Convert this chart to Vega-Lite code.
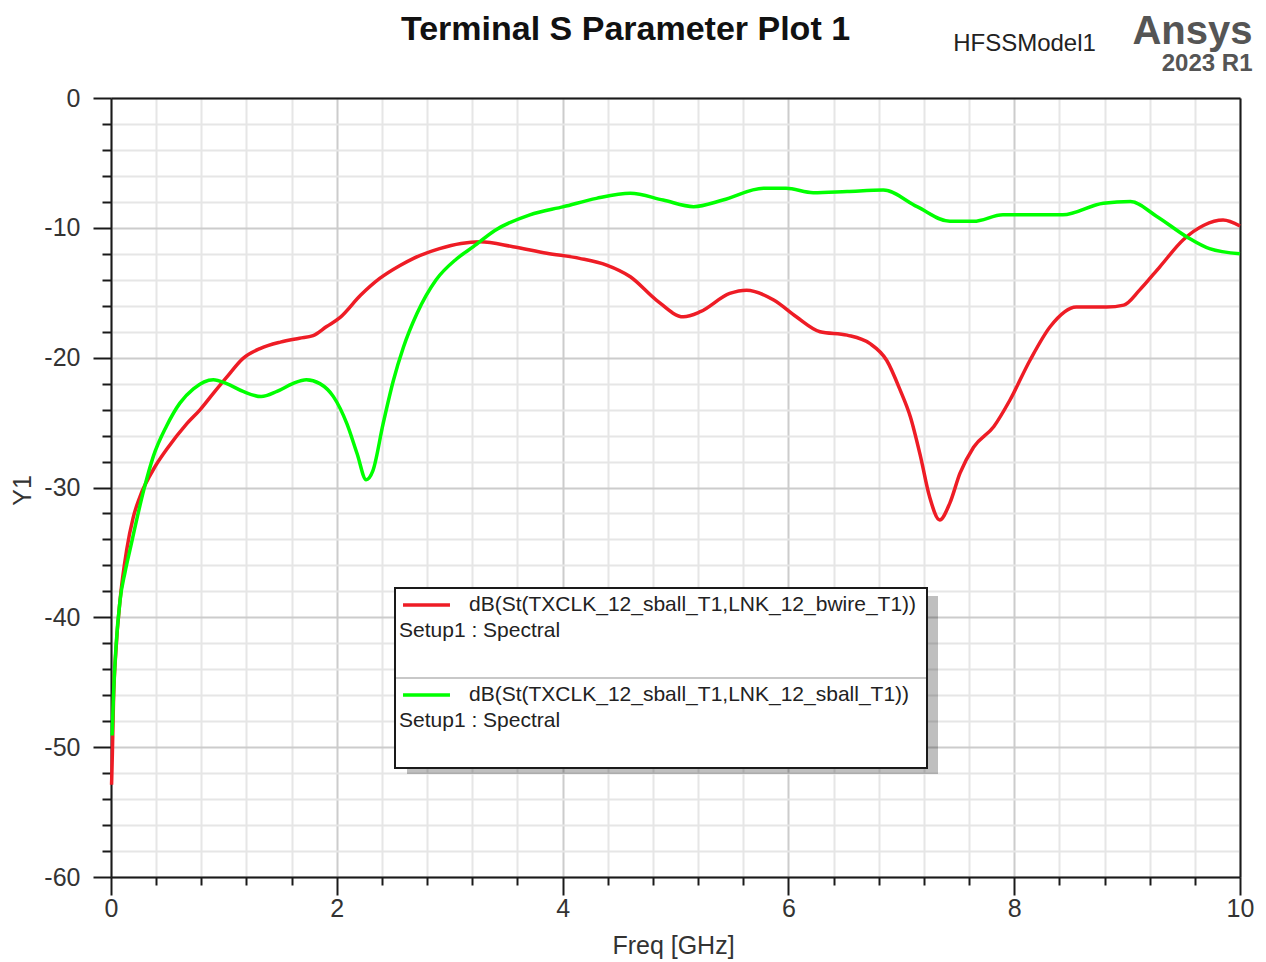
{
  "$schema": "https://vega.github.io/schema/vega-lite/v6.json",
  "width": 1129,
  "height": 779,
  "autosize": {"type": "none"},
  "padding": {"left": 111, "top": 98, "right": 26, "bottom": 85},
  "background": "#ffffff",
  "config": {"view": {"stroke": null}, "font": "Liberation Sans"},
  "title": {"text": "Terminal S Parameter Plot 1", "fontSize": 34, "fontWeight": "bold", "color": "#111111", "font": "Liberation Sans", "anchor": "middle", "dx": -50, "dy": 63, "baseline": "alphabetic", "offset": 0},
  "data": {"values": [
    {"s": "dB(St(TXCLK_12_sball_T1,LNK_12_bwire_T1))", "f": 0.005, "db": -52.9},
    {"s": "dB(St(TXCLK_12_sball_T1,LNK_12_bwire_T1))", "f": 0.012, "db": -50.5},
    {"s": "dB(St(TXCLK_12_sball_T1,LNK_12_bwire_T1))", "f": 0.022, "db": -46.5},
    {"s": "dB(St(TXCLK_12_sball_T1,LNK_12_bwire_T1))", "f": 0.044, "db": -42.5},
    {"s": "dB(St(TXCLK_12_sball_T1,LNK_12_bwire_T1))", "f": 0.08, "db": -38.7},
    {"s": "dB(St(TXCLK_12_sball_T1,LNK_12_bwire_T1))", "f": 0.139, "db": -34.8},
    {"s": "dB(St(TXCLK_12_sball_T1,LNK_12_bwire_T1))", "f": 0.197, "db": -32.3},
    {"s": "dB(St(TXCLK_12_sball_T1,LNK_12_bwire_T1))", "f": 0.257, "db": -30.7},
    {"s": "dB(St(TXCLK_12_sball_T1,LNK_12_bwire_T1))", "f": 0.39, "db": -28.4},
    {"s": "dB(St(TXCLK_12_sball_T1,LNK_12_bwire_T1))", "f": 0.49, "db": -27.1},
    {"s": "dB(St(TXCLK_12_sball_T1,LNK_12_bwire_T1))", "f": 0.67, "db": -25.1},
    {"s": "dB(St(TXCLK_12_sball_T1,LNK_12_bwire_T1))", "f": 0.79, "db": -24.0},
    {"s": "dB(St(TXCLK_12_sball_T1,LNK_12_bwire_T1))", "f": 0.906, "db": -22.75},
    {"s": "dB(St(TXCLK_12_sball_T1,LNK_12_bwire_T1))", "f": 1.025, "db": -21.5},
    {"s": "dB(St(TXCLK_12_sball_T1,LNK_12_bwire_T1))", "f": 1.17, "db": -20.05},
    {"s": "dB(St(TXCLK_12_sball_T1,LNK_12_bwire_T1))", "f": 1.32, "db": -19.3},
    {"s": "dB(St(TXCLK_12_sball_T1,LNK_12_bwire_T1))", "f": 1.5, "db": -18.8},
    {"s": "dB(St(TXCLK_12_sball_T1,LNK_12_bwire_T1))", "f": 1.67, "db": -18.5},
    {"s": "dB(St(TXCLK_12_sball_T1,LNK_12_bwire_T1))", "f": 1.79, "db": -18.3},
    {"s": "dB(St(TXCLK_12_sball_T1,LNK_12_bwire_T1))", "f": 1.91, "db": -17.6},
    {"s": "dB(St(TXCLK_12_sball_T1,LNK_12_bwire_T1))", "f": 2.03, "db": -16.9},
    {"s": "dB(St(TXCLK_12_sball_T1,LNK_12_bwire_T1))", "f": 2.21, "db": -15.2},
    {"s": "dB(St(TXCLK_12_sball_T1,LNK_12_bwire_T1))", "f": 2.38, "db": -13.9},
    {"s": "dB(St(TXCLK_12_sball_T1,LNK_12_bwire_T1))", "f": 2.56, "db": -12.9},
    {"s": "dB(St(TXCLK_12_sball_T1,LNK_12_bwire_T1))", "f": 2.68, "db": -12.35},
    {"s": "dB(St(TXCLK_12_sball_T1,LNK_12_bwire_T1))", "f": 2.91, "db": -11.6},
    {"s": "dB(St(TXCLK_12_sball_T1,LNK_12_bwire_T1))", "f": 3.1, "db": -11.2},
    {"s": "dB(St(TXCLK_12_sball_T1,LNK_12_bwire_T1))", "f": 3.27, "db": -11.07},
    {"s": "dB(St(TXCLK_12_sball_T1,LNK_12_bwire_T1))", "f": 3.56, "db": -11.45},
    {"s": "dB(St(TXCLK_12_sball_T1,LNK_12_bwire_T1))", "f": 3.86, "db": -11.96},
    {"s": "dB(St(TXCLK_12_sball_T1,LNK_12_bwire_T1))", "f": 4.15, "db": -12.35},
    {"s": "dB(St(TXCLK_12_sball_T1,LNK_12_bwire_T1))", "f": 4.39, "db": -12.87},
    {"s": "dB(St(TXCLK_12_sball_T1,LNK_12_bwire_T1))", "f": 4.6, "db": -13.77},
    {"s": "dB(St(TXCLK_12_sball_T1,LNK_12_bwire_T1))", "f": 4.83, "db": -15.56},
    {"s": "dB(St(TXCLK_12_sball_T1,LNK_12_bwire_T1))", "f": 5.07, "db": -16.85},
    {"s": "dB(St(TXCLK_12_sball_T1,LNK_12_bwire_T1))", "f": 5.22, "db": -16.46},
    {"s": "dB(St(TXCLK_12_sball_T1,LNK_12_bwire_T1))", "f": 5.48, "db": -15.05},
    {"s": "dB(St(TXCLK_12_sball_T1,LNK_12_bwire_T1))", "f": 5.63, "db": -14.8},
    {"s": "dB(St(TXCLK_12_sball_T1,LNK_12_bwire_T1))", "f": 5.87, "db": -15.56},
    {"s": "dB(St(TXCLK_12_sball_T1,LNK_12_bwire_T1))", "f": 6.07, "db": -16.85},
    {"s": "dB(St(TXCLK_12_sball_T1,LNK_12_bwire_T1))", "f": 6.28, "db": -18.0},
    {"s": "dB(St(TXCLK_12_sball_T1,LNK_12_bwire_T1))", "f": 6.52, "db": -18.26},
    {"s": "dB(St(TXCLK_12_sball_T1,LNK_12_bwire_T1))", "f": 6.72, "db": -18.9},
    {"s": "dB(St(TXCLK_12_sball_T1,LNK_12_bwire_T1))", "f": 6.87, "db": -20.2},
    {"s": "dB(St(TXCLK_12_sball_T1,LNK_12_bwire_T1))", "f": 6.99, "db": -22.5},
    {"s": "dB(St(TXCLK_12_sball_T1,LNK_12_bwire_T1))", "f": 7.08, "db": -24.55},
    {"s": "dB(St(TXCLK_12_sball_T1,LNK_12_bwire_T1))", "f": 7.17, "db": -27.6},
    {"s": "dB(St(TXCLK_12_sball_T1,LNK_12_bwire_T1))", "f": 7.25, "db": -30.7},
    {"s": "dB(St(TXCLK_12_sball_T1,LNK_12_bwire_T1))", "f": 7.34, "db": -32.5},
    {"s": "dB(St(TXCLK_12_sball_T1,LNK_12_bwire_T1))", "f": 7.43, "db": -31.2},
    {"s": "dB(St(TXCLK_12_sball_T1,LNK_12_bwire_T1))", "f": 7.52, "db": -28.9},
    {"s": "dB(St(TXCLK_12_sball_T1,LNK_12_bwire_T1))", "f": 7.64, "db": -26.9},
    {"s": "dB(St(TXCLK_12_sball_T1,LNK_12_bwire_T1))", "f": 7.82, "db": -25.3},
    {"s": "dB(St(TXCLK_12_sball_T1,LNK_12_bwire_T1))", "f": 7.96, "db": -23.3},
    {"s": "dB(St(TXCLK_12_sball_T1,LNK_12_bwire_T1))", "f": 8.14, "db": -20.2},
    {"s": "dB(St(TXCLK_12_sball_T1,LNK_12_bwire_T1))", "f": 8.32, "db": -17.6},
    {"s": "dB(St(TXCLK_12_sball_T1,LNK_12_bwire_T1))", "f": 8.55, "db": -16.1},
    {"s": "dB(St(TXCLK_12_sball_T1,LNK_12_bwire_T1))", "f": 8.82, "db": -16.1},
    {"s": "dB(St(TXCLK_12_sball_T1,LNK_12_bwire_T1))", "f": 8.97, "db": -15.95},
    {"s": "dB(St(TXCLK_12_sball_T1,LNK_12_bwire_T1))", "f": 9.11, "db": -14.8},
    {"s": "dB(St(TXCLK_12_sball_T1,LNK_12_bwire_T1))", "f": 9.29, "db": -13.0},
    {"s": "dB(St(TXCLK_12_sball_T1,LNK_12_bwire_T1))", "f": 9.5, "db": -10.9},
    {"s": "dB(St(TXCLK_12_sball_T1,LNK_12_bwire_T1))", "f": 9.68, "db": -9.8},
    {"s": "dB(St(TXCLK_12_sball_T1,LNK_12_bwire_T1))", "f": 9.85, "db": -9.4},
    {"s": "dB(St(TXCLK_12_sball_T1,LNK_12_bwire_T1))", "f": 10.0, "db": -9.86},
    {"s": "dB(St(TXCLK_12_sball_T1,LNK_12_sball_T1))", "f": 0.01, "db": -49.1},
    {"s": "dB(St(TXCLK_12_sball_T1,LNK_12_sball_T1))", "f": 0.022, "db": -46.0},
    {"s": "dB(St(TXCLK_12_sball_T1,LNK_12_sball_T1))", "f": 0.044, "db": -42.3},
    {"s": "dB(St(TXCLK_12_sball_T1,LNK_12_sball_T1))", "f": 0.08, "db": -38.7},
    {"s": "dB(St(TXCLK_12_sball_T1,LNK_12_sball_T1))", "f": 0.125, "db": -36.5},
    {"s": "dB(St(TXCLK_12_sball_T1,LNK_12_sball_T1))", "f": 0.168, "db": -34.8},
    {"s": "dB(St(TXCLK_12_sball_T1,LNK_12_sball_T1))", "f": 0.29, "db": -30.2},
    {"s": "dB(St(TXCLK_12_sball_T1,LNK_12_sball_T1))", "f": 0.375, "db": -27.6},
    {"s": "dB(St(TXCLK_12_sball_T1,LNK_12_sball_T1))", "f": 0.49, "db": -25.3},
    {"s": "dB(St(TXCLK_12_sball_T1,LNK_12_sball_T1))", "f": 0.61, "db": -23.5},
    {"s": "dB(St(TXCLK_12_sball_T1,LNK_12_sball_T1))", "f": 0.73, "db": -22.4},
    {"s": "dB(St(TXCLK_12_sball_T1,LNK_12_sball_T1))", "f": 0.906, "db": -21.7},
    {"s": "dB(St(TXCLK_12_sball_T1,LNK_12_sball_T1))", "f": 1.025, "db": -22.0},
    {"s": "dB(St(TXCLK_12_sball_T1,LNK_12_sball_T1))", "f": 1.17, "db": -22.6},
    {"s": "dB(St(TXCLK_12_sball_T1,LNK_12_sball_T1))", "f": 1.33, "db": -23.0},
    {"s": "dB(St(TXCLK_12_sball_T1,LNK_12_sball_T1))", "f": 1.47, "db": -22.6},
    {"s": "dB(St(TXCLK_12_sball_T1,LNK_12_sball_T1))", "f": 1.61, "db": -22.0},
    {"s": "dB(St(TXCLK_12_sball_T1,LNK_12_sball_T1))", "f": 1.73, "db": -21.7},
    {"s": "dB(St(TXCLK_12_sball_T1,LNK_12_sball_T1))", "f": 1.85, "db": -22.0},
    {"s": "dB(St(TXCLK_12_sball_T1,LNK_12_sball_T1))", "f": 1.97, "db": -23.0},
    {"s": "dB(St(TXCLK_12_sball_T1,LNK_12_sball_T1))", "f": 2.09, "db": -25.1},
    {"s": "dB(St(TXCLK_12_sball_T1,LNK_12_sball_T1))", "f": 2.18, "db": -27.4},
    {"s": "dB(St(TXCLK_12_sball_T1,LNK_12_sball_T1))", "f": 2.26, "db": -29.4},
    {"s": "dB(St(TXCLK_12_sball_T1,LNK_12_sball_T1))", "f": 2.32, "db": -28.7},
    {"s": "dB(St(TXCLK_12_sball_T1,LNK_12_sball_T1))", "f": 2.41, "db": -25.1},
    {"s": "dB(St(TXCLK_12_sball_T1,LNK_12_sball_T1))", "f": 2.5, "db": -21.8},
    {"s": "dB(St(TXCLK_12_sball_T1,LNK_12_sball_T1))", "f": 2.59, "db": -19.2},
    {"s": "dB(St(TXCLK_12_sball_T1,LNK_12_sball_T1))", "f": 2.71, "db": -16.6},
    {"s": "dB(St(TXCLK_12_sball_T1,LNK_12_sball_T1))", "f": 2.88, "db": -14.0},
    {"s": "dB(St(TXCLK_12_sball_T1,LNK_12_sball_T1))", "f": 3.06, "db": -12.4},
    {"s": "dB(St(TXCLK_12_sball_T1,LNK_12_sball_T1))", "f": 3.21, "db": -11.45},
    {"s": "dB(St(TXCLK_12_sball_T1,LNK_12_sball_T1))", "f": 3.4, "db": -10.2},
    {"s": "dB(St(TXCLK_12_sball_T1,LNK_12_sball_T1))", "f": 3.71, "db": -9.0},
    {"s": "dB(St(TXCLK_12_sball_T1,LNK_12_sball_T1))", "f": 4.01, "db": -8.37},
    {"s": "dB(St(TXCLK_12_sball_T1,LNK_12_sball_T1))", "f": 4.3, "db": -7.73},
    {"s": "dB(St(TXCLK_12_sball_T1,LNK_12_sball_T1))", "f": 4.6, "db": -7.34},
    {"s": "dB(St(TXCLK_12_sball_T1,LNK_12_sball_T1))", "f": 4.89, "db": -7.86},
    {"s": "dB(St(TXCLK_12_sball_T1,LNK_12_sball_T1))", "f": 5.16, "db": -8.37},
    {"s": "dB(St(TXCLK_12_sball_T1,LNK_12_sball_T1))", "f": 5.42, "db": -7.86},
    {"s": "dB(St(TXCLK_12_sball_T1,LNK_12_sball_T1))", "f": 5.78, "db": -6.96},
    {"s": "dB(St(TXCLK_12_sball_T1,LNK_12_sball_T1))", "f": 5.98, "db": -6.96},
    {"s": "dB(St(TXCLK_12_sball_T1,LNK_12_sball_T1))", "f": 6.22, "db": -7.3},
    {"s": "dB(St(TXCLK_12_sball_T1,LNK_12_sball_T1))", "f": 6.52, "db": -7.2},
    {"s": "dB(St(TXCLK_12_sball_T1,LNK_12_sball_T1))", "f": 6.84, "db": -7.09},
    {"s": "dB(St(TXCLK_12_sball_T1,LNK_12_sball_T1))", "f": 7.14, "db": -8.37},
    {"s": "dB(St(TXCLK_12_sball_T1,LNK_12_sball_T1))", "f": 7.43, "db": -9.5},
    {"s": "dB(St(TXCLK_12_sball_T1,LNK_12_sball_T1))", "f": 7.64, "db": -9.5},
    {"s": "dB(St(TXCLK_12_sball_T1,LNK_12_sball_T1))", "f": 7.9, "db": -9.0},
    {"s": "dB(St(TXCLK_12_sball_T1,LNK_12_sball_T1))", "f": 8.43, "db": -9.0},
    {"s": "dB(St(TXCLK_12_sball_T1,LNK_12_sball_T1))", "f": 8.79, "db": -8.1},
    {"s": "dB(St(TXCLK_12_sball_T1,LNK_12_sball_T1))", "f": 9.03, "db": -7.98},
    {"s": "dB(St(TXCLK_12_sball_T1,LNK_12_sball_T1))", "f": 9.26, "db": -9.1},
    {"s": "dB(St(TXCLK_12_sball_T1,LNK_12_sball_T1))", "f": 9.53, "db": -10.7},
    {"s": "dB(St(TXCLK_12_sball_T1,LNK_12_sball_T1))", "f": 9.73, "db": -11.6},
    {"s": "dB(St(TXCLK_12_sball_T1,LNK_12_sball_T1))", "f": 10.0, "db": -12.0}
  ]},
  "resolve": {"axis": {"x": "independent", "y": "independent"}},
  "layer": [
    {
      "mark": {"type": "line", "strokeOpacity": 0, "interpolate": "monotone"},
      "encoding": {
        "x": {"field": "f", "type": "quantitative", "scale": {"domain": [0, 10], "nice": false, "zero": false},
          "axis": {"orient": "bottom", "values": [0.4, 0.8, 1.2, 1.6, 2.4, 2.8, 3.2, 3.6, 4.4, 4.8, 5.2, 5.6, 6.4, 6.8, 7.2, 7.6, 8.4, 8.8, 9.2, 9.6],
            "grid": true, "gridColor": "#e6e6e6", "gridWidth": 2, "ticks": true, "tickSize": 8, "tickWidth": 2, "tickColor": "#1a1a1a",
            "labels": false, "domain": false, "title": null}},
        "y": {"field": "db", "type": "quantitative", "scale": {"domain": [-60, 0], "nice": false, "zero": false},
          "axis": {"orient": "left", "values": [-58, -56, -54, -52, -48, -46, -44, -42, -38, -36, -34, -32, -28, -26, -24, -22, -18, -16, -14, -12, -8, -6, -4, -2],
            "grid": true, "gridColor": "#e6e6e6", "gridWidth": 2, "ticks": true, "tickSize": 9, "tickWidth": 2, "tickColor": "#1a1a1a",
            "labels": false, "domain": false, "title": null}},
        "detail": {"field": "s"}
      }
    },
    {
      "mark": {"type": "line", "strokeOpacity": 0},
      "encoding": {
        "x": {"field": "f", "type": "quantitative",
          "axis": {"orient": "top", "grid": false, "ticks": false, "labels": false, "domain": true, "domainColor": "#1a1a1a", "domainWidth": 2,
            "title": "HFSSModel1", "titleFont": "Liberation Sans", "titleFontSize": 24, "titleFontWeight": "normal", "titleColor": "#222222",
            "titleX": 913, "titleY": -48, "titleAlign": "center", "titleBaseline": "alphabetic", "titleAngle": 0}},
        "y": {"field": "db", "type": "quantitative",
          "axis": {"orient": "right", "grid": false, "ticks": false, "labels": false, "domain": true, "domainColor": "#1a1a1a", "domainWidth": 2,
            "title": "Ansys", "titleFont": "Liberation Sans", "titleFontSize": 40, "titleFontWeight": "bold", "titleColor": "#555555",
            "titleX": 12, "titleY": -55, "titleAlign": "right", "titleBaseline": "alphabetic", "titleAngle": 0}},
        "detail": {"field": "s"}
      }
    },
    {
      "mark": {"type": "line", "strokeOpacity": 0},
      "encoding": {
        "x": {"field": "f", "type": "quantitative", "axis": null},
        "y": {"field": "db", "type": "quantitative",
          "axis": {"orient": "right", "grid": false, "ticks": false, "labels": false, "domain": false,
            "title": "2023 R1", "titleFont": "Liberation Sans", "titleFontSize": 24, "titleFontWeight": "bold", "titleColor": "#555555",
            "titleX": 12, "titleY": -28, "titleAlign": "right", "titleBaseline": "alphabetic", "titleAngle": 0}},
        "detail": {"field": "s"}
      }
    },
    {
      "mark": {"type": "line", "strokeWidth": 3.5, "interpolate": "monotone"},
      "encoding": {
        "x": {"field": "f", "type": "quantitative",
          "axis": {"orient": "bottom", "values": [0, 2, 4, 6, 8, 10], "grid": true, "gridColor": "#cccccc", "gridWidth": 2,
            "ticks": true, "tickSize": 18, "tickWidth": 2, "tickColor": "#1a1a1a", "domain": true, "domainColor": "#1a1a1a", "domainWidth": 2,
            "labelFont": "Liberation Sans", "labelFontSize": 25, "labelColor": "#333333", "labelPadding": 1, "labelFlush": false, "labelOverlap": false,
            "title": "Freq [GHz]", "titleFont": "Liberation Sans", "titleFontSize": 25, "titleFontWeight": "normal", "titleColor": "#333333",
            "titleX": 562, "titleY": 76, "titleAlign": "center", "titleBaseline": "alphabetic"}},
        "y": {"field": "db", "type": "quantitative",
          "axis": {"orient": "left", "values": [-60, -50, -40, -30, -20, -10, 0], "grid": true, "gridColor": "#cccccc", "gridWidth": 2,
            "ticks": true, "tickSize": 18, "tickWidth": 2, "tickColor": "#1a1a1a", "domain": true, "domainColor": "#1a1a1a", "domainWidth": 2,
            "labelFont": "Liberation Sans", "labelFontSize": 25, "labelColor": "#333333", "labelPadding": 13, "labelFlush": false, "labelOverlap": false,
            "labelExpr": "datum.value + ''",
            "title": "Y1", "titleFont": "Liberation Sans", "titleFontSize": 25, "titleFontWeight": "normal", "titleColor": "#333333",
            "titleX": -89, "titleY": 392, "titleAlign": "center", "titleBaseline": "middle", "titleAngle": 270}},
        "opacity": {"aggregate": "max", "field": "f", "type": "quantitative", "scale": {"range": [1, 1]},
          "legend": {"orient": "none", "legendX": 296, "legendY": 498, "title": null, "padding": 0, "values": [5],
            "fillColor": "rgba(0,0,0,0.25)", "symbolOpacity": 0, "labelExpr": "''", "zindex": 1,
            "encode": {"entries": {"update": {"width": {"value": 531}, "height": {"value": 178}, "noBound": {"value": false}}}}}},
        "color": {"field": "s", "type": "nominal",
          "scale": {"domain": ["dB(St(TXCLK_12_sball_T1,LNK_12_bwire_T1))", "dB(St(TXCLK_12_sball_T1,LNK_12_sball_T1))"], "range": ["#ee1c25", "#00ff00"]},
          "legend": {"orient": "none", "legendX": 284, "legendY": 490, "title": null, "padding": 0,
            "fillColor": "#ffffff", "strokeColor": "#1a1a1a",
            "symbolType": "M-1.54,0L1.54,0", "symbolSize": 930, "symbolStrokeWidth": 3.5, "symbolOffset": 14.5,
            "labelOffset": -44.5, "labelFont": "Liberation Sans", "labelFontSize": 21, "labelColor": "#222222", "labelLimit": 700, "labelBaseline": "middle",
            "labelExpr": "['\u200b\u00a0\u00a0\u00a0\u00a0\u00a0\u00a0\u00a0\u00a0\u00a0\u00a0\u00a0\u00a0' + datum.label, 'Setup1 : Spectral']",
            "rowPadding": -2, "zindex": 2,
            "encode": {
              "legend": {"update": {"strokeWidth": {"value": 2}, "strokeForeground": {"value": true}}},
              "entries": {"update": {"width": {"value": 531}, "height": {"value": 89}, "noBound": {"value": false}, "stroke": {"value": "#c8c8c8"}, "strokeWidth": {"value": 2}}},
              "labels": {"update": {"lineHeight": {"value": 26}}}
            }}}
      }
    }
  ]
}
